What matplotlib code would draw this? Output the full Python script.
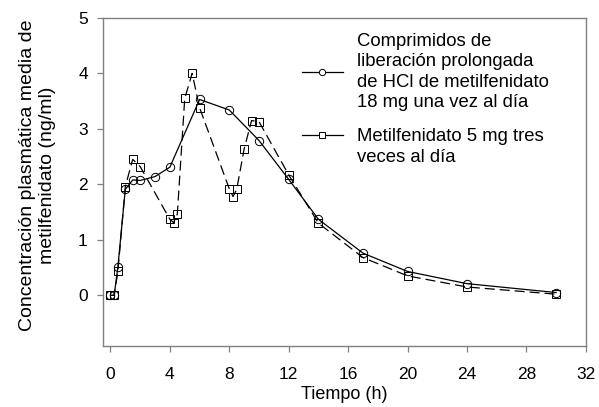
import matplotlib
matplotlib.use("Agg")
import matplotlib.pyplot as plt
from matplotlib.lines import Line2D

plt.rcParams['font.family'] = ['Liberation Sans', 'DejaVu Sans']

# OROS-type extended release tablets 18 mg once daily
t_er = [0, 0.25, 0.5, 1, 1.5, 2, 3, 4, 6, 8, 10, 12, 14, 17, 20, 24, 30]
c_er = [0.0, 0.0, 0.51, 1.91, 2.08, 2.07, 2.14, 2.31, 3.53, 3.34, 2.79, 2.09,
        1.37, 0.76, 0.43, 0.21, 0.05]

# Methylphenidate 5 mg three times daily
t_ir = [0, 0.25, 0.5, 1, 1.5, 2, 4, 4.25, 4.5, 5, 5.5, 6, 8, 8.25, 8.5, 9,
        9.5, 10, 12, 14, 17, 20, 24, 30]
c_ir = [0.0, 0.0, 0.43, 1.96, 2.45, 2.32, 1.37, 1.31, 1.46, 3.55, 4.0, 3.38,
        1.92, 1.78, 1.91, 2.64, 3.15, 3.13, 2.17, 1.30, 0.68, 0.35, 0.15, 0.02]

x_ticks = [0, 4, 8, 12, 16, 20, 24, 28, 32]
y_ticks = [0, 1, 2, 3, 4, 5]

label_er = "Comprimidos de\nliberación prolongada\nde HCl de metilfenidato\n18 mg una vez al día"
label_ir = "Metilfenidato 5 mg tres\nveces al día"
x_label = "Tiempo (h)"
y_label = "Concentración plasmática media de\nmetilfenidato (ng/ml)"

fig = plt.figure(figsize=(5.99, 4.07), dpi=100)
ax = fig.add_axes([0.172, 0.149, 0.806, 0.807])

ax.plot(t_er, c_er, color='black', lw=0.9, marker='o', ms=6,
        mfc='none', mec='black', mew=0.7)
ax.plot(t_ir, c_ir, color='black', lw=0.9, ls=(0, (8, 4)), marker='s', ms=5.5,
        mfc='none', mec='black', mew=0.7)

ax.set_xlim(-0.5, 32)
ax.set_ylim(-0.92, 5)
ax.set_xticks(x_ticks)
ax.set_yticks(y_ticks)
ax.tick_params(axis='both', direction='out', length=4, width=0.9,
               color='#808080', labelsize=12.5)
ax.tick_params(axis='x', pad=11)
ax.tick_params(axis='y', pad=7)
for s in ax.spines.values():
    s.set_color('#808080')
    s.set_linewidth(1.0)

ax.set_xlabel(x_label, fontsize=13, labelpad=3)
ax.set_ylabel(y_label, fontsize=14, labelpad=16, linespacing=1.2)
ax.yaxis.label.set_y(0.52)

# legend (manual, no frame)
tr = ax.transAxes
def ax_x(px):
    return (px - 103) / (586 - 103)
def ax_y(py):
    return (346.5 - py) / (346.5 - 18)

h0, h1 = ax_x(302), ax_x(343)
y1 = ax_y(72)
y2 = ax_y(135)
ax.add_line(Line2D([h0, h1], [y1, y1], transform=tr, color='black', lw=0.9))
ax.add_line(Line2D([(h0 + h1) / 2], [y1], transform=tr, color='black',
                   marker='o', ms=4.5, mfc='white', mec='black', mew=0.7))
ax.add_line(Line2D([h0, h1], [y2, y2], transform=tr, color='black', lw=0.9))
ax.add_line(Line2D([(h0 + h1) / 2], [y2], transform=tr, color='black',
                   marker='s', ms=4, mfc='white', mec='black', mew=0.7))
ax.text(ax_x(357), ax_y(72), label_er, transform=tr, fontsize=13.3,
        va='center', ha='left', linespacing=1.25)
ax.text(ax_x(357), ax_y(147), label_ir, transform=tr, fontsize=13.3,
        va='center', ha='left', linespacing=1.25)

fig.savefig("out.png", dpi=100)
